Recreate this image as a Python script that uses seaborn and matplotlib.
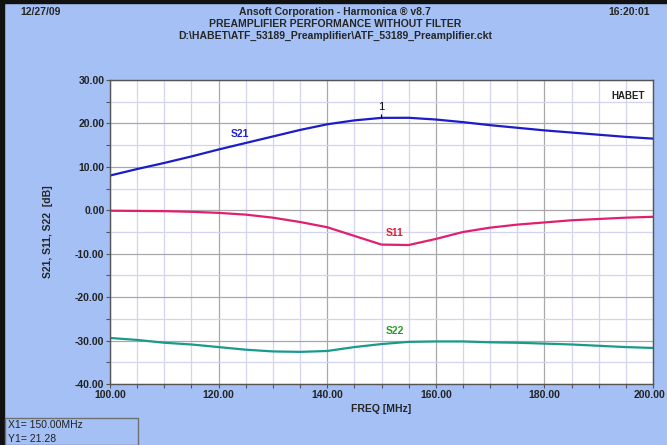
import numpy as np
import pandas as pd
import matplotlib
matplotlib.use("Agg")
import matplotlib.pyplot as plt
from matplotlib import font_manager
from matplotlib.ticker import MultipleLocator, FormatStrFormatter
from matplotlib.patches import Rectangle
from matplotlib.transforms import ScaledTranslation
import seaborn as sns

freq = [100, 105, 110, 115, 120, 125, 130, 135, 140, 145, 150,
        155, 160, 165, 170, 175, 180, 185, 190, 195, 200]
s21 = [8.0, 9.5, 10.9, 12.4, 14.0, 15.5, 17.0, 18.5, 19.8, 20.7, 21.28,
       21.3, 20.9, 20.3, 19.6, 19.0, 18.4, 17.9, 17.4, 16.9, 16.5]
s11 = [-0.1, -0.15, -0.2, -0.35, -0.6, -1.0, -1.7, -2.7, -3.9, -5.9, -7.9,
       -8.0, -6.6, -5.0, -4.0, -3.3, -2.8, -2.3, -2.0, -1.7, -1.5]
s22 = [-29.4, -29.85, -30.5, -30.9, -31.5, -32.1, -32.5, -32.6, -32.4, -31.5, -30.8,
       -30.3, -30.2, -30.2, -30.4, -30.5, -30.7, -30.9, -31.2, -31.5, -31.7]
series_names = ["S21", "S11", "S22"]
series_colors = ["#1c1cc8", "#e0206e", "#1a9a8a"]
label_colors = ["#2424c8", "#e02030", "#2a9a2a"]
label_pos = [(124, 17.5), (152.5, -5.2), (152.5, -27.8)]
marker_x, marker_y = 150.0, 21.28

df = pd.DataFrame({
    "FREQ": freq * 3,
    "dB": s21 + s11 + s22,
    "trace": ["S21"] * len(freq) + ["S11"] * len(freq) + ["S22"] * len(freq),
})

sns.set_style("white")
avail = {f.name for f in font_manager.fontManager.ttflist}
fam = "Liberation Sans Narrow" if "Liberation Sans Narrow" in avail else "Liberation Sans"
plt.rcParams["font.family"] = [fam, "DejaVu Sans"]

bg = "#a4c0f4"
fig = plt.figure(figsize=(6.67, 4.45), dpi=100, facecolor=bg)
ax = fig.add_axes([110 / 667, (445 - 384) / 445, 543 / 667, 304 / 445])
ax.set_facecolor("white")

sns.lineplot(data=df, x="FREQ", y="dB", hue="trace", palette=dict(zip(series_names, series_colors)),
             linewidth=1.6, ax=ax, legend=False)

ax.set_xlim(100, 200)
ax.set_ylim(-40, 30)
ax.xaxis.set_major_locator(MultipleLocator(20))
ax.xaxis.set_minor_locator(MultipleLocator(5))
ax.yaxis.set_major_locator(MultipleLocator(10))
ax.yaxis.set_minor_locator(MultipleLocator(5))
ax.xaxis.set_major_formatter(FormatStrFormatter("%.2f"))
ax.yaxis.set_major_formatter(FormatStrFormatter("%.2f"))
ax.grid(which="minor", color="#d4d4f0", linewidth=0.9, zorder=0)
ax.grid(which="major", color="#a8a8a8", linewidth=0.9, zorder=0)
ax.set_axisbelow(True)
ax.tick_params(which="both", direction="out", length=3, width=0.8, color="#555555",
               bottom=True, left=True, pad=1)
for lab in ax.get_xticklabels() + ax.get_yticklabels():
    lab.set_fontweight("bold")
    lab.set_fontsize(7.5)
    lab.set_color("#222222")
for sp in ax.spines.values():
    sp.set_color("#555555")
    sp.set_linewidth(1.0)

fig.canvas.draw()
xl = ax.get_xticklabels()
last = [l for l in xl if l.get_text() == "200.00"]
for l in last:
    l.set_transform(l.get_transform() + ScaledTranslation(-3 / 100, 0, fig.dpi_scale_trans))

ax.set_xlabel("FREQ [MHz]", fontsize=7.5, fontweight="bold", labelpad=3)
ax.set_ylabel("S21, S11, S22  [dB]", fontsize=7.5, fontweight="bold", labelpad=16)

for name, c, (lx, ly) in zip(series_names, label_colors, label_pos):
    ax.text(lx, ly, name, color=c, fontsize=7.5, fontweight="bold", ha="center", va="center")

ax.annotate("1", xy=(marker_x, marker_y), xytext=(marker_x, marker_y + 2.6),
            ha="center", va="center", fontsize=8, color="black",
            arrowprops=dict(arrowstyle="-", color="black", lw=0.8, shrinkA=3, shrinkB=0))
ax.text(0.985, 0.965, "HABET", transform=ax.transAxes, ha="right", va="top",
        fontsize=7, fontweight="bold", color="#222222")

fig.text(20 / 667, 1 - 12 / 445, "12/27/09", fontsize=7.5, fontweight="bold", va="center")
fig.text(650 / 667, 1 - 12 / 445, "16:20:01", fontsize=7.5, fontweight="bold", va="center", ha="right")
fig.text(0.502, 1 - 12 / 445, "Ansoft Corporation - Harmonica \u00ae v8.7", fontsize=7.5,
         fontweight="bold", va="center", ha="center")
fig.text(0.502, 1 - 24 / 445, "PREAMPLIFIER PERFORMANCE WITHOUT FILTER", fontsize=7.5,
         fontweight="bold", va="center", ha="center")
fig.text(0.502, 1 - 36 / 445, "D:\\HABET\\ATF_53189_Preamplifier\\ATF_53189_Preamplifier.ckt",
         fontsize=7.5, fontweight="bold", va="center", ha="center")

# frame lines of the window
fig.add_artist(Rectangle((0, 0), 4 / 667, 1, transform=fig.transFigure, color="#111111"))
fig.add_artist(Rectangle((0, 1 - 3 / 445), 1, 3 / 445, transform=fig.transFigure, color="#111111"))

# marker readout box
fig.add_artist(Rectangle((5 / 667, 0), 133 / 667, 27 / 445, transform=fig.transFigure,
                         facecolor=bg, edgecolor="#707070", linewidth=1.0))
fig.text(8 / 667, 1 - 425 / 445, "X1= 150.00MHz", fontsize=7.5, va="center", color="#222222")
fig.text(8 / 667, 1 - 439 / 445, "Y1= 21.28", fontsize=7.5, va="center", color="#222222")

fig.savefig("out.png", dpi=100, facecolor=bg)
